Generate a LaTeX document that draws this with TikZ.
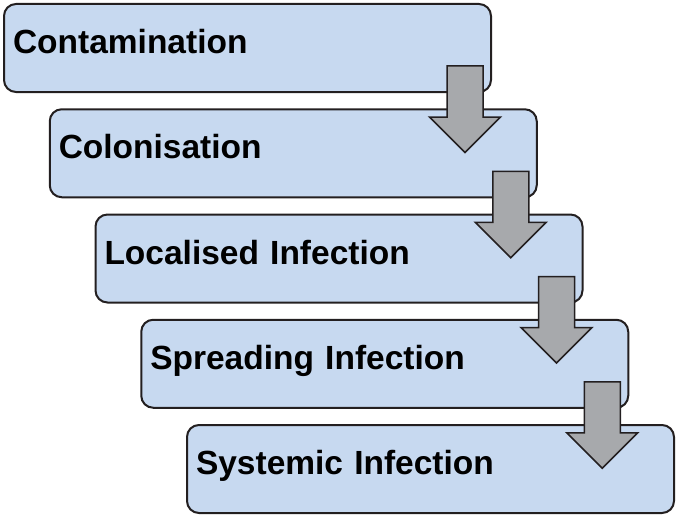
\documentclass[tikz,border=0pt]{standalone}
\usepackage{fontspec}
\setmainfont{Liberation Sans}
\usetikzlibrary{calc}
\definecolor{stagefill}{RGB}{199,217,240}
\definecolor{arrowfill}{RGB}{167,169,172}
\definecolor{edgecol}{RGB}{35,31,32}
\tikzset{
    stage/.style={draw=edgecol, fill=stagefill, line width=2pt, rounded corners=12pt,
        anchor=north west, text width=469pt, inner xsep=9pt, align=left,
        minimum height=88pt, text height=24pt, text depth=13pt,
        font=\fontsize{33.5}{40}\selectfont\bfseries},
    flow/.style={draw=edgecol, fill=arrowfill, line width=1.5pt, line join=miter}
}
\begin{document}
\begin{tikzpicture}[x=1pt, y=-1pt]
\useasboundingbox (0,0) rectangle (677,519);
\node[stage] (c1) at (3,3) {Contamination};
\node[stage] (c2) at (48.75,108.25) {Colonisation};
\node[stage] (c3) at (94.5,213.5) {Localised Infection};
\node[stage] (c4) at (140.25,318.75) {Spreading Infection};
\node[stage] (c5) at (186,424) {Systemic Infection};
% arrows from one stage to the next
\foreach \a in {c1,c2,c3,c4} {
    \draw[flow] ($(\a.south east)+(-45,-27)$) -- ++(36,0) -- ++(0,51) -- ++(17.5,0)
        -- ++(-35.5,35.5) -- ++(-35.5,-35.5) -- ++(17.5,0) -- cycle;
}
\end{tikzpicture}
\end{document}
